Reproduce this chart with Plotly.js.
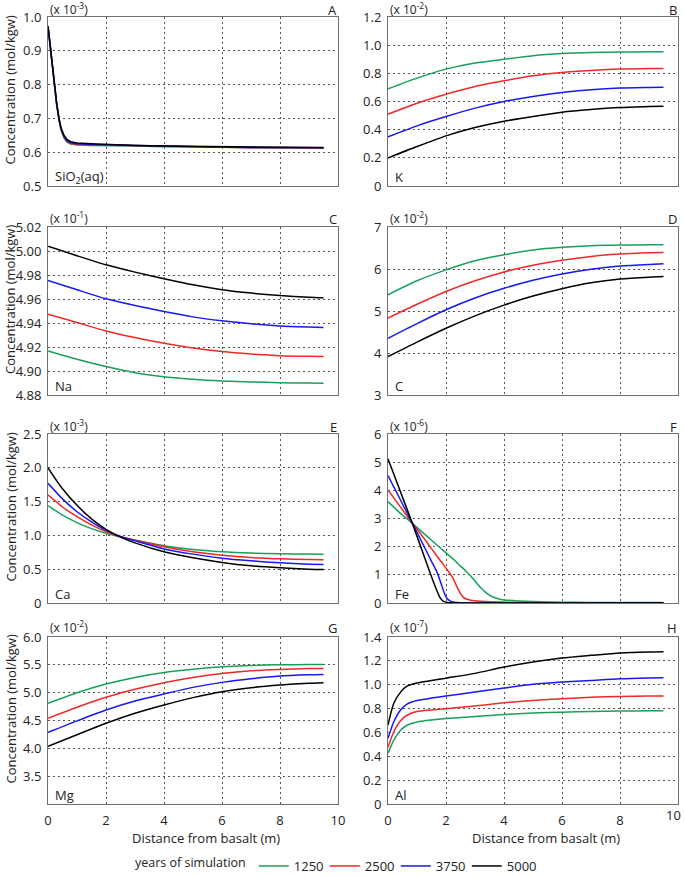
<!DOCTYPE html>
<html>
<head>
<meta charset="utf-8">
<script src="https://cdn.plot.ly/plotly-3.0.1.min.js"></script>
<style>html,body{margin:0;padding:0;background:#fff}#chart{width:685px;height:876px}</style>
</head>
<body>
<div id="chart"></div>
<script>
// ---------- data ----------
const years = ['1250', '2500', '3750', '5000'];
const colors = ['#17a05a', '#f02828', '#1818f0', '#000000'];

// A: SiO2(aq) (x 10^-3)
const distSi = [0,0.05,0.09,0.15,0.21,0.3,0.38,0.45,0.55,0.65,0.78,1.0,1.5,2,3,4,5,6,7,8,9,9.5];
const sio2_1250 = [0.973,0.932,0.897,0.846,0.795,0.738,0.695,0.665,0.642,0.630,0.624,0.621,0.620,0.620,0.618,0.616,0.615,0.614,0.613,0.612,0.612,0.612];
const sio2_2500 = [0.973,0.933,0.898,0.847,0.796,0.740,0.696,0.667,0.645,0.633,0.626,0.623,0.622,0.621,0.619,0.617,0.615,0.614,0.613,0.613,0.612,0.612];
const sio2_3750 = [0.973,0.934,0.899,0.848,0.798,0.742,0.698,0.669,0.647,0.635,0.628,0.625,0.623,0.622,0.619,0.617,0.616,0.615,0.614,0.613,0.613,0.613];
const sio2_5000 = [0.973,0.935,0.900,0.850,0.800,0.745,0.700,0.672,0.650,0.638,0.631,0.627,0.625,0.623,0.620,0.618,0.617,0.616,0.615,0.614,0.614,0.614];

// common distance grid
const dist = [0,1,2,3,4,5,6,7,8,9,9.5];

// B: K (x 10^-2)
const k_1250 = [0.69,0.766,0.83,0.873,0.90,0.925,0.94,0.948,0.951,0.953,0.953];
const k_2500 = [0.51,0.588,0.652,0.707,0.747,0.783,0.806,0.82,0.83,0.834,0.835];
const k_3750 = [0.349,0.427,0.493,0.553,0.60,0.636,0.664,0.683,0.695,0.70,0.702];
const k_5000 = [0.199,0.28,0.356,0.415,0.46,0.493,0.524,0.543,0.557,0.564,0.567];

// C: Na (x 10^-1)
const na_1250 = [4.9167,4.9098,4.9037,4.8986,4.8953,4.8931,4.8917,4.8909,4.8903,4.8899,4.8897];
const na_2500 = [4.9474,4.9404,4.9334,4.9279,4.9231,4.9192,4.9162,4.9142,4.9128,4.9122,4.9120];
const na_3750 = [4.9755,4.9677,4.9602,4.9546,4.9496,4.9451,4.9418,4.9393,4.9376,4.9366,4.9362];
const na_5000 = [5.0039,4.9960,4.9885,4.9824,4.9769,4.9718,4.9677,4.9649,4.9629,4.9615,4.9610];

// D: C (x 10^-2)
const c_1250 = [5.386,5.72,5.98,6.197,6.34,6.45,6.515,6.555,6.57,6.578,6.58];
const c_2500 = [4.83,5.16,5.465,5.72,5.93,6.09,6.21,6.30,6.355,6.385,6.395];
const c_3750 = [4.35,4.70,5.03,5.31,5.54,5.73,5.88,5.995,6.07,6.11,6.125];
const c_5000 = [3.915,4.26,4.59,4.885,5.14,5.355,5.53,5.67,5.76,5.805,5.82];

// E: Ca (x 10^-3)
const distCa = [0,0.5,1,1.5,2,2.5,3,4,5,6,7,8,9,9.5];
const ca_1250 = [1.44,1.30,1.19,1.10,1.03,0.975,0.93,0.847,0.79,0.757,0.738,0.728,0.724,0.723];
const ca_2500 = [1.60,1.42,1.277,1.155,1.054,0.98,0.93,0.832,0.757,0.708,0.673,0.653,0.642,0.639];
const ca_3750 = [1.77,1.54,1.35,1.20,1.074,0.985,0.92,0.80,0.723,0.663,0.624,0.594,0.575,0.569];
const ca_5000 = [2.00,1.69,1.445,1.245,1.09,0.975,0.89,0.757,0.668,0.60,0.55,0.52,0.50,0.495];

// F: Fe (x 10^-6)
const distFe = [0,0.4,0.84,1.2,1.5,1.7,1.8,1.9,2.0,2.1,2.2,2.3,2.4,2.5,2.6,2.7,2.85,3.0,3.2,3.4,3.6,3.8,4.0,4.5,5,6,7,8,9,9.5];
const fe_1250 = [3.6,3.21,2.83,2.5,2.23,2.05,1.96,1.87,1.78,1.69,1.60,1.51,1.41,1.31,1.22,1.12,0.96,0.78,0.54,0.35,0.22,0.15,0.11,0.07,0.05,0.03,0.02,0.02,0.02,0.02];
const fe_2500 = [4.01,3.45,2.83,2.35,1.93,1.65,1.51,1.38,1.24,1.10,0.95,0.75,0.53,0.33,0.2,0.14,0.1,0.08,0.06,0.05,0.04,0.035,0.03,0.02,0.02,0.01,0.01,0.01,0.01,0.01];
const fe_3750 = [4.52,3.72,2.83,2.1,1.48,1.07,0.78,0.47,0.22,0.10,0.05,0.03,0.02,0.01,0.01,0.005,0,0,0,0,0,0,0,0,0,0,0,0,0,0];
const fe_5000 = [5.12,4.03,2.83,1.79,0.93,0.40,0.18,0.07,0.03,0.01,0.005,0,0,0,0,0,0,0,0,0,0,0,0,0,0,0,0,0,0,0];

// G: Mg (x 10^-2)
const mg_1250 = [4.81,5.0,5.155,5.274,5.363,5.42,5.464,5.488,5.5,5.505,5.506];
const mg_2500 = [4.54,4.738,4.917,5.06,5.18,5.274,5.345,5.393,5.417,5.432,5.435];
const mg_3750 = [4.286,4.494,4.69,4.851,4.976,5.095,5.185,5.25,5.298,5.32,5.327];
const mg_5000 = [4.036,4.244,4.45,4.631,4.78,4.911,5.018,5.089,5.137,5.17,5.18];

// H: Al (x 10^-7)
const distAl = [0,0.2,0.44,0.67,1.0,1.5,2,3,4,5,6,7,8,9,9.5];
const al_1250 = [0.425,0.536,0.62,0.662,0.688,0.705,0.717,0.734,0.751,0.762,0.77,0.776,0.779,0.781,0.781];
const al_2500 = [0.475,0.606,0.70,0.746,0.775,0.788,0.798,0.822,0.849,0.868,0.882,0.894,0.902,0.905,0.906];
const al_3750 = [0.55,0.69,0.79,0.84,0.868,0.888,0.905,0.938,0.972,1.003,1.022,1.036,1.05,1.057,1.059];
const al_5000 = [0.662,0.844,0.94,0.99,1.015,1.035,1.055,1.095,1.148,1.19,1.224,1.246,1.266,1.275,1.277];

// tick labels
const xTickVals = [0,2,4,6,8,10];
const xTickText = ['0','2','4','6','8','10'];
const xTickValsRight = [0,2,4,6,8];
const xTickTextRight = ['0','2','4','6','8'];
const xEndLabel = '10';
const yTickA = [0.5,0.6,0.7,0.8,0.9,1.0],      yTextA = ['0.5','0.6','0.7','0.8','0.9','1.0'];
const yTickB = [0,0.2,0.4,0.6,0.8,1.0,1.2],    yTextB = ['0','0.2','0.4','0.6','0.8','1.0','1.2'];
const yTickC = [4.88,4.90,4.92,4.94,4.96,4.98,5.00,5.02], yTextC = ['4.88','4.90','4.92','4.94','4.96','4.98','5.00','5.02'];
const yTickD = [3,4,5,6,7],                    yTextD = ['3','4','5','6','7'];
const yTickE = [0,0.5,1.0,1.5,2.0,2.5],        yTextE = ['0','0.5','1.0','1.5','2.0','2.5'];
const yTickF = [0,1,2,3,4,5,6],                yTextF = ['0','1','2','3','4','5','6'];
const yTickG = [3.5,4.0,4.5,5.0,5.5,6.0],      yTextG = ['3.5','4.0','4.5','5.0','5.5','6.0'];
const yTickH = [0,0.2,0.4,0.6,0.8,1.0,1.2,1.4], yTextH = ['0','0.2','0.4','0.6','0.8','1.0','1.2','1.4'];

const panelLetters = ['A','B','C','D','E','F','G','H'];
const exponents = ['-3','-2','-1','-2','-3','-6','-2','-7'];
const species = ['SiO<sub>2</sub>(aq)','K','Na','C','Ca','Fe','Mg','Al'];

// ---------- layout geometry ----------
const W = 685, H = 876;
const FONT = 'Open Sans, Noto Sans, DejaVu Sans, sans-serif';
const colPx = [[48, 338], [388, 678]];
const rowPx = [[17, 186], [227, 395], [434, 603], [637, 804]];
const px = v => v / W;
const py = v => 1 - v / H;

const panels = [
  {x: distSi, ys: [sio2_1250, sio2_2500, sio2_3750, sio2_5000], range: [0.5, 1.0], tv: yTickA, tt: yTextA, shape: 'linear', sm: 0},
  {x: dist,   ys: [k_1250, k_2500, k_3750, k_5000], range: [0, 1.2], tv: yTickB, tt: yTextB, shape: 'spline', sm: 0.7},
  {x: dist,   ys: [na_1250, na_2500, na_3750, na_5000], range: [4.88, 5.02], tv: yTickC, tt: yTextC, shape: 'spline', sm: 0.7},
  {x: dist,   ys: [c_1250, c_2500, c_3750, c_5000], range: [3, 7], tv: yTickD, tt: yTextD, shape: 'spline', sm: 0.7},
  {x: distCa, ys: [ca_1250, ca_2500, ca_3750, ca_5000], range: [0, 2.5], tv: yTickE, tt: yTextE, shape: 'spline', sm: 0.7},
  {x: distFe, ys: [fe_1250, fe_2500, fe_3750, fe_5000], range: [0, 6], tv: yTickF, tt: yTextF, shape: 'spline', sm: 0.4},
  {x: dist,   ys: [mg_1250, mg_2500, mg_3750, mg_5000], range: [3.0, 6.0], tv: yTickG, tt: yTextG, shape: 'spline', sm: 0.7},
  {x: distAl, ys: [al_1250, al_2500, al_3750, al_5000], range: [0, 1.4], tv: yTickH, tt: yTextH, shape: 'spline', sm: 0.7}
];

const data = [];
const layout = {
  width: W, height: H,
  margin: {l: 0, r: 0, t: 0, b: 0, autoexpand: false},
  paper_bgcolor: '#ffffff', plot_bgcolor: '#ffffff',
  font: {family: FONT, size: 13, color: '#222'},
  showlegend: true,
  legend: {
    orientation: 'h', x: px(133), xanchor: 'left', y: py(866), yanchor: 'middle',
    title: {text: 'years of simulation', side: 'left', font: {size: 12.5, color: '#222'}},
    font: {size: 13, color: '#222'}, entrywidth: 26, bgcolor: 'rgba(0,0,0,0)'
  },
  annotations: []
};

panels.forEach((p, i) => {
  const col = i % 2, row = Math.floor(i / 2);
  const n = i + 1;
  const xa = n === 1 ? 'xaxis' : 'xaxis' + n;
  const ya = n === 1 ? 'yaxis' : 'yaxis' + n;
  const xr = n === 1 ? 'x' : 'x' + n;
  const yr = n === 1 ? 'y' : 'y' + n;
  const [x0, x1] = colPx[col];
  const [t, b] = rowPx[row];
  const rightBottom = (row === 3 && col === 1);
  layout[xa] = {
    domain: [px(x0), px(x1)], anchor: yr, range: [0, 10],
    tickmode: 'array',
    tickvals: rightBottom ? xTickValsRight : xTickVals,
    ticktext: rightBottom ? xTickTextRight : xTickText,
    showticklabels: row === 3, ticks: '', ticklabelstandoff: 4,
    ticklabeloverflow: 'allow',
    showgrid: true, gridcolor: '#555', gridwidth: 1, griddash: '2px,3px',
    showline: true, mirror: true, linecolor: '#707070', linewidth: 1,
    zeroline: false, fixedrange: true, tickfont: {size: 13, color: '#222'}
  };
  layout[ya] = {
    domain: [py(b), py(t)], anchor: xr, range: p.range,
    tickmode: 'array', tickvals: p.tv, ticktext: p.tt,
    ticks: '', ticklabelstandoff: 3,
    showgrid: true, gridcolor: '#555', gridwidth: 1, griddash: '2px,3px',
    showline: true, mirror: true, linecolor: '#707070', linewidth: 1,
    zeroline: false, fixedrange: true, tickfont: {size: 13, color: '#222'}
  };
  p.ys.forEach((y, k) => {
    data.push({
      type: 'scatter', mode: 'lines', x: p.x, y: y,
      xaxis: xr, yaxis: yr, name: years[k], legendgroup: years[k],
      showlegend: i === 0,
      line: {color: colors[k], width: 1.5, shape: p.shape, smoothing: p.sm},
      hoverinfo: 'skip'
    });
  });
  const labelY = [9, 218, 426, 627][row];
  layout.annotations.push({
    text: '(x 10<sup>' + exponents[i] + '</sup>)', xref: 'paper', yref: 'paper',
    x: px(x0), y: py(labelY), xanchor: 'left', yanchor: 'middle', showarrow: false,
    font: {size: 12, color: '#222'}
  });
  layout.annotations.push({
    text: panelLetters[i], xref: 'paper', yref: 'paper',
    x: px(x1 + 1), y: py(labelY + 1), xanchor: 'right', yanchor: 'middle', showarrow: false,
    font: {size: 13, color: '#222'}
  });
  layout.annotations.push({
    text: species[i], xref: 'paper', yref: 'paper',
    x: px(x0 + 5), y: py(b - 9), xanchor: 'left', yanchor: 'middle', showarrow: false,
    font: {size: 13, color: '#222'}
  });
  if (col === 0) {
    layout.annotations.push({
      text: 'Concentration (mol/kgw)', xref: 'paper', yref: 'paper', textangle: -90,
      x: px(10), y: py((t + b) / 2 - 11), xanchor: 'center', yanchor: 'middle', showarrow: false,
      font: {size: 13, color: '#222'}
    });
  }
  if (row === 3) {
    layout.annotations.push({
      text: 'Distance from basalt (m)', xref: 'paper', yref: 'paper',
      x: px((x0 + x1) / 2 + 13), y: py(838), xanchor: 'center', yanchor: 'middle', showarrow: false,
      font: {size: 13, color: '#222'}
    });
  }
  if (rightBottom) {
    // end-of-axis tick label for the right-hand bottom panel, kept inside the page edge
    layout.annotations.push({
      text: xEndLabel, xref: 'paper', yref: 'paper', x: px(673), y: py(815),
      xanchor: 'center', yanchor: 'middle', showarrow: false,
      font: {size: 13, color: '#222'}
    });
  }
});

Plotly.newPlot('chart', data, layout, {staticPlot: true, displayModeBar: false});
</script>
</body>
</html>
